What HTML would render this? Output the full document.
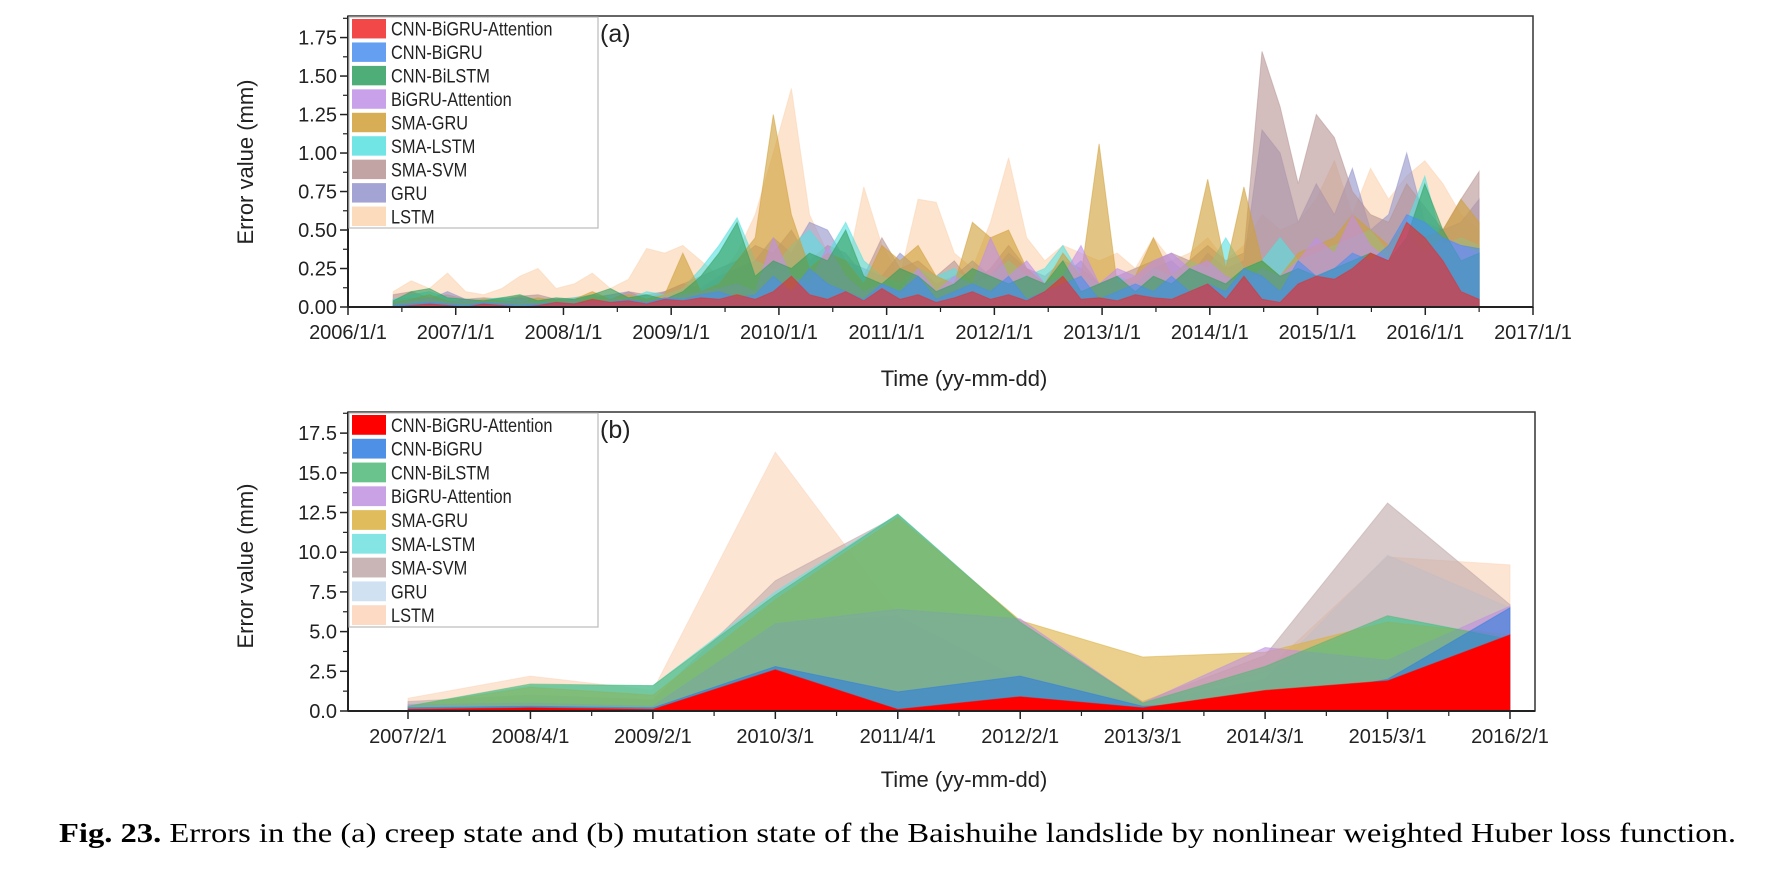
<!DOCTYPE html>
<html><head><meta charset="utf-8"><style>
html,body{margin:0;padding:0;background:#fff;}
svg{display:block;font-family:"Liberation Sans",Arial,sans-serif;}
</style></head><body>
<svg id="fig" width="1770" height="871" viewBox="0 0 1770 871" xmlns="http://www.w3.org/2000/svg">
<g id="pa"></g>
<g id="pb"></g>
<text x="59" y="842" font-family="Liberation Serif, serif" font-size="27" textLength="1677" lengthAdjust="spacingAndGlyphs"><tspan font-weight="bold">Fig. 23.</tspan>  Errors in the (a) creep state and (b) mutation state of the Baishuihe landslide by nonlinear weighted Huber loss function.</text>
</svg>
<script>
const seriesNames=["CNN-BiGRU-Attention","CNN-BiGRU","CNN-BiLSTM","BiGRU-Attention","SMA-GRU","SMA-LSTM","SMA-SVM","GRU","LSTM"];
const colorsA=["#f02828","#4a8ef0","#30a060","#c090e8","#d0a038","#58e0e0","#b89494","#9494cc","#fcd4b0"];
const colorsB=["#ff0000","#2f7de0","#50b878","#c090e0","#dcb040","#70e0e0","#c0a8a8","#c8dcf0","#fcd4b8"];
const xTicksA=["2006/1/1","2007/1/1","2008/1/1","2009/1/1","2010/1/1","2011/1/1","2012/1/1","2013/1/1","2014/1/1","2015/1/1","2016/1/1","2017/1/1"];
const yTicksA=["0.00","0.25","0.50","0.75","1.00","1.25","1.50","1.75"];
const startYearA=2006.42, stepYearA=0.168;
const aRed=[.00,.01,.02,.01,.00,.02,.01,.00,.01,.03,.02,.05,.03,.04,.02,.05,.04,.06,.05,.08,.05,.10,.20,.08,.05,.10,.04,.12,.05,.08,.03,.06,.10,.05,.08,.04,.10,.20,.05,.06,.04,.08,.06,.05,.10,.15,.05,.20,.05,.03,.15,.20,.18,.25,.35,.30,.55,.45,.30,.10,.05];
const aCnnBigru=[.01,.02,.03,.02,.01,.03,.02,.01,.02,.03,.02,.04,.03,.05,.03,.06,.05,.08,.10,.06,.08,.20,.10,.25,.15,.10,.05,.15,.10,.20,.05,.10,.15,.10,.20,.05,.10,.15,.20,.05,.10,.15,.10,.20,.10,.15,.10,.25,.20,.10,.30,.20,.25,.35,.30,.40,.60,.55,.45,.40,.38];
const aCnnBilstm=[.04,.10,.12,.06,.05,.04,.06,.08,.04,.06,.05,.08,.12,.06,.08,.05,.10,.20,.35,.55,.20,.30,.25,.35,.30,.50,.20,.15,.25,.20,.10,.15,.25,.20,.15,.20,.15,.30,.10,.15,.20,.10,.20,.15,.25,.20,.15,.25,.30,.20,.25,.20,.25,.30,.35,.30,.45,.80,.50,.30,.35];
const aBigruAtt=[.02,.04,.06,.03,.05,.02,.03,.05,.02,.03,.04,.03,.05,.04,.03,.06,.08,.10,.12,.15,.10,.45,.20,.15,.40,.20,.10,.15,.10,.25,.10,.20,.15,.45,.20,.30,.15,.20,.40,.15,.25,.20,.30,.35,.25,.30,.20,.15,.25,.20,.30,.45,.35,.60,.40,.30,.50,.35,.45,.40,.35];
const aSmaGru=[.03,.05,.08,.04,.03,.05,.04,.03,.06,.04,.05,.10,.05,.08,.05,.08,.35,.10,.15,.30,.45,1.25,.60,.25,.35,.30,.15,.40,.30,.40,.20,.15,.55,.45,.50,.25,.15,.35,.20,1.06,.15,.20,.45,.20,.30,.83,.25,.78,.30,.20,.35,.40,.45,.60,.50,.40,.55,.45,.50,.70,.55];
const aSmaLstm=[.05,.08,.10,.06,.04,.05,.06,.04,.05,.04,.06,.08,.06,.05,.10,.08,.12,.25,.40,.58,.30,.25,.40,.50,.35,.55,.30,.20,.15,.25,.20,.25,.15,.20,.30,.20,.25,.40,.20,.15,.20,.15,.25,.20,.30,.25,.45,.25,.30,.45,.30,.35,.40,.45,.50,.35,.55,.85,.40,.45,.40];
const aSmaSvm=[.08,.10,.06,.08,.05,.06,.05,.07,.08,.05,.06,.08,.05,.10,.08,.10,.15,.20,.25,.30,.40,.35,.50,.30,.40,.35,.20,.45,.25,.30,.20,.30,.15,.25,.40,.25,.20,.30,.25,.15,.20,.25,.30,.35,.30,.40,.30,.35,1.66,1.30,.80,1.25,1.10,.75,.60,.55,.80,.65,.50,.70,.88];
const aGru=[.05,.06,.05,.10,.05,.04,.05,.06,.05,.05,.05,.06,.08,.10,.05,.10,.15,.12,.20,.25,.30,.45,.35,.55,.50,.30,.25,.20,.35,.25,.15,.20,.30,.20,.35,.25,.15,.20,.30,.15,.20,.15,.25,.30,.20,.35,.25,.30,1.15,1.00,.55,.80,.60,.90,.50,.60,1.00,.55,.50,.55,.70];
const aLstm=[.10,.17,.12,.22,.10,.08,.12,.20,.25,.12,.15,.22,.12,.18,.38,.35,.40,.30,.20,.35,.60,1.0,1.42,.60,.35,.20,.78,.40,.20,.70,.68,.35,.25,.55,.97,.45,.30,.40,.35,.30,.35,.25,.45,.30,.35,.45,.30,.40,.60,.50,.55,.70,.95,.60,.90,.70,.85,.95,.80,.60,.50];
const categoriesB=["2007/2/1","2008/4/1","2009/2/1","2010/3/1","2011/4/1","2012/2/1","2013/3/1","2014/3/1","2015/3/1","2016/2/1"];
const yTicksB=["0.0","2.5","5.0","7.5","10.0","12.5","15.0","17.5"];
const bRed=[0.1,0.2,0.1,2.6,0.1,0.9,0.2,1.3,1.9,4.8];
const bCnnBigru=[0.2,0.3,0.2,2.8,1.2,2.2,0.3,0.6,2.0,6.5];
const bCnnBilstm=[0.3,1.7,1.6,7.3,12.4,5.6,0.5,2.8,6.0,4.5];
const bBigruAtt=[0.4,0.5,0.3,5.5,6.4,5.8,0.5,4.0,3.2,6.6];
const bSmaGru=[0.3,1.5,1.0,7.0,12.2,5.7,3.4,3.7,5.6,4.8];
const bSmaLstm=[0.3,1.6,1.6,7.5,12.4,5.6,0.5,2.5,5.9,4.6];
const bSmaSvm=[0.6,1.0,0.7,8.2,12.3,5.5,0.6,3.5,13.1,6.7];
const bGru=[0.5,0.8,0.5,5.5,6.0,2.0,0.5,2.0,9.8,6.5];
const bLstm=[0.8,2.2,1.3,16.3,6.0,1.8,0.6,2.5,9.7,9.2];

const NS="http://www.w3.org/2000/svg";
function mk(parent,tag,attrs,txt){const e=document.createElementNS(NS,tag);for(const k in attrs)e.setAttribute(k,attrs[k]);if(txt!==undefined)e.textContent=txt;parent.appendChild(e);return e;}

function drawPanel(g,cfg){
  const {L,R,T,B,ymax,yTicks,yStep,xFn,xTickLabels,xTickPos,xMinor,series,colors,alpha,label,ytitleY,xtitleY,legendT,legendB}=cfg;
  const y=v=>B-(v/ymax)*(B-T);
  const fr=mk(g,'rect',{x:L,y:T,width:R-L,height:B-T,fill:'none',stroke:'#333','stroke-width':1.5});
  
  for(let s=series.length-1;s>=0;s--){
    const vals=series[s];let d='M'+xFn(0)+','+B;
    vals.forEach((v,i)=>{d+=' L'+xFn(i).toFixed(1)+','+y(v).toFixed(1);});
    d+=' L'+xFn(vals.length-1).toFixed(1)+','+B+' Z';
    const p=mk(g,'path',{d:d,fill:colors[s],'fill-opacity':(s===0&&cfg.redOpaque)?1:alpha,stroke:colors[s],'stroke-opacity':0.5,'stroke-width':1});
    
    
  }
  const ax=mk(g,'line',{x1:L,y1:B,x2:R,y2:B,stroke:'#222','stroke-width':2});
  
  const ay=mk(g,'line',{x1:L,y1:T,x2:L,y2:B,stroke:'#222','stroke-width':2});
  
  yTicks.forEach((t,i)=>{const yy=y(i*yStep);
    mk(g,'line',{x1:L-8,y1:yy,x2:L,y2:yy,stroke:'#222','stroke-width':1.5});
    if(y((i+0.5)*yStep)>T) mk(g,'line',{x1:L-5,y1:y((i+0.5)*yStep),x2:L,y2:y((i+0.5)*yStep),stroke:'#222','stroke-width':1.2});
    const tl=mk(g,'text',{x:L-11,y:yy+7,'font-size':20,'text-anchor':'end',fill:'#222'},t);
    
  });
  xTickLabels.forEach((t,i)=>{const xx=xTickPos(i);
    mk(g,'line',{x1:xx,y1:B,x2:xx,y2:B+8,stroke:'#222','stroke-width':1.5});
    const tl=mk(g,'text',{x:xx,y:B+32,'font-size':20,'text-anchor':'middle',fill:'#222'},t);
    
  });
  xMinor.forEach(xx=>mk(g,'line',{x1:xx,y1:B,x2:xx,y2:B+5,stroke:'#222','stroke-width':1.2}));
  const yt=mk(g,'text',{x:0,y:0,'font-size':22,'text-anchor':'middle',fill:'#222',transform:`translate(253,${ytitleY}) rotate(-90)`},'Error value (mm)');
  
  const xt=mk(g,'text',{x:964,y:xtitleY,'font-size':22,'text-anchor':'middle',fill:'#222'},'Time (yy-mm-dd)');
  
  const lg=mk(g,'g',{});
  mk(lg,'rect',{x:L+1,y:legendT,width:597-L,height:legendB-legendT,fill:'#fff',stroke:'#bbb','stroke-width':1.2});
  const rh=(legendB-legendT)/9;
  seriesNames.forEach((n,i)=>{const ry=legendT+i*rh;
    const e=mk(lg,'g',{});
    mk(e,'rect',{x:L+4,y:ry+2,width:34,height:rh-4,fill:colors[i],'fill-opacity':(i===0&&cfg.redOpaque)?1:0.85});
    mk(e,'text',{'font-size':19,fill:'#222',transform:`translate(${L+43},${ry+rh/2+7}) scale(0.86,1)`},n);
  });
  const lb=mk(g,'text',{x:600,y:legendT+25,'font-size':25,fill:'#222'},label);
  
}

const LA=348,RA=1533,pxYear=(RA-LA)/11;
const xYear=t=>LA+(t-2006)*pxYear;
const minorA=[];for(let i=0;i<11;i++)minorA.push(xYear(2006.5+i));
drawPanel(document.getElementById('pa'),{L:LA,R:RA,T:16,B:307,ymax:1.89,yTicks:yTicksA,yStep:0.25,
  xFn:i=>xYear(startYearA+i*stepYearA),xTickLabels:xTicksA,xTickPos:i=>xYear(2006+i),xMinor:minorA,
  series:[aRed,aCnnBigru,aCnnBilstm,aBigruAtt,aSmaGru,aSmaLstm,aSmaSvm,aGru,aLstm],colors:colorsA,alpha:0.62,
  label:'(a)',ytitleY:162,xtitleY:386,legendT:17,legendB:228,redOpaque:false});
const LB=348,RB=1535,x0B=408,dxB=(1510-408)/9;
const minorB=[];for(let i=0;i<9;i++)minorB.push(x0B+(i+0.5)*dxB);
drawPanel(document.getElementById('pb'),{L:LB,R:RB,T:412,B:711,ymax:18.83,yTicks:yTicksB,yStep:2.5,
  xFn:i=>x0B+i*dxB,xTickLabels:categoriesB,xTickPos:i=>x0B+i*dxB,xMinor:minorB,
  series:[bRed,bCnnBigru,bCnnBilstm,bBigruAtt,bSmaGru,bSmaLstm,bSmaSvm,bGru,bLstm],colors:colorsB,alpha:0.6,
  label:'(b)',ytitleY:566,xtitleY:787,legendT:413,legendB:627,redOpaque:true});
</script>
</body></html>
